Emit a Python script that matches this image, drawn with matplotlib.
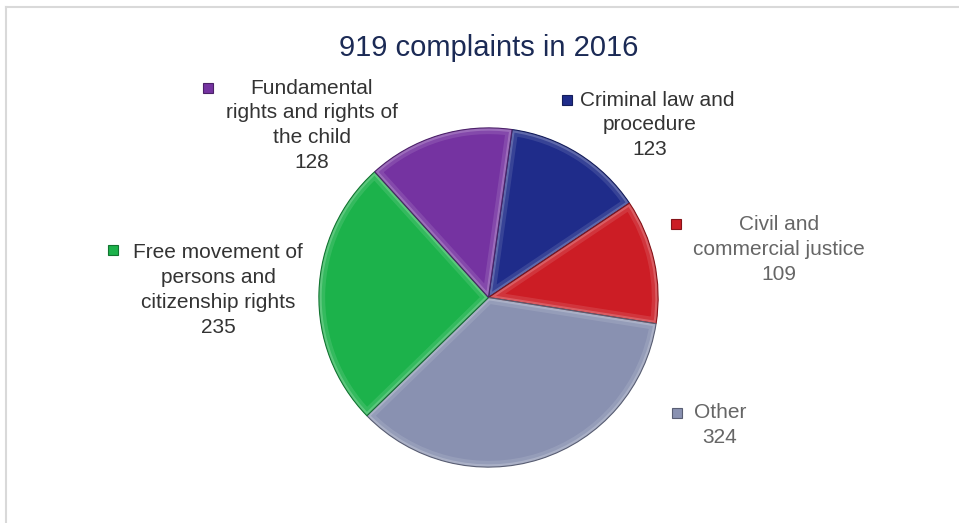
import matplotlib.pyplot as plt
from matplotlib.patches import Wedge, Rectangle
from matplotlib.lines import Line2D
from matplotlib.colors import to_rgb

plt.rcParams['font.family'] = ['Liberation Sans', 'DejaVu Sans']

# data (clockwise from the top)
categories = ["Criminal law and\nprocedure",
              "Civil and\ncommercial justice",
              "Other",
              "Free movement of\npersons and\ncitizenship rights",
              "Fundamental\nrights and rights of\nthe child"]
counts = [123, 109, 324, 235, 128]
colors = ["#1f2c8a", "#cc1d25", "#8991b1", "#1cb24b", "#7533a1"]
title = "919 complaints in 2016"

# label layout in pixels: marker (x, y), first line x, text centre x, first line y, colour
W, H = 959, 523
label_layout = [
    ((567, 100), 657, 650, 100, "#333333"),
    ((676, 224), 779, 779, 225, "#666666"),
    ((677, 413), 720, 720, 413, "#666666"),
    ((113, 250), 218, 218, 253, "#333333"),
    ((208, 88), 312, 312, 88, "#333333"),
]


def shade(c, f):
    r, g, b = to_rgb(c)
    if f > 0:
        return (r + (1 - r) * f, g + (1 - g) * f, b + (1 - b) * f)
    return (r * (1 + f), g * (1 + f), b * (1 + f))


def px(x, y):
    return x / W, 1 - y / H


fig = plt.figure(figsize=(W / 100, H / 100), dpi=100)

# light frame (only top and left show in the crop)
fig.add_artist(Line2D([6 / W, 6 / W], [0, 1 - 7 / H], transform=fig.transFigure,
                      color="#d9d9d9", lw=1.5))
fig.add_artist(Line2D([6 / W, 1], [1 - 7 / H, 1 - 7 / H], transform=fig.transFigure,
                      color="#d9d9d9", lw=1.5))

cx, cy, r = 488.5, 297.5, 173
ax = fig.add_axes([(cx - r) / W, (H - cy - r) / H, 2 * r / W, 2 * r / H])
wedges, _ = ax.pie(counts, colors=colors, startangle=82, counterclock=False,
                   radius=1, wedgeprops=dict(linewidth=0))
ax.set_xlim(-1.02, 1.02)
ax.set_ylim(-1.02, 1.02)
ax.set_aspect("equal")
ax.axis("off")

# bevel-like rim: light inner band plus a dark outline
for w, c in zip(wedges, colors):
    for lw, a in [(9, 0.2), (4, 0.4)]:
        rim = Wedge(w.center, w.r, w.theta1, w.theta2, fill=False,
                    edgecolor=shade(c, 0.55), lw=lw, alpha=a)
        ax.add_patch(rim)
        rim.set_clip_path(w)
    ax.add_patch(Wedge(w.center, w.r, w.theta1, w.theta2, fill=False,
                       edgecolor=shade(c, -0.35), lw=0.8))

fig.text(*px(489, 48), title, ha="center", va="center", fontsize=21,
         color="#1b2a55")

for cat, n, c, (mk, fx, tx, ty, tc) in zip(categories, counts, colors, label_layout):
    lines = cat.split("\n") + [str(n)]
    for i, line in enumerate(lines):
        fig.text(*px(fx if i == 0 else tx, ty + i * 24.8), line, ha="center",
                 va="center", fontsize=15, color=tc)
    s = 10
    x0, y0 = px(mk[0] - s / 2, mk[1] + s / 2)
    fig.add_artist(Rectangle((x0, y0), s / W, s / H, transform=fig.transFigure,
                             facecolor=c, edgecolor=shade(c, -0.35), lw=0.8))

plt.savefig("out.png", dpi=100)
